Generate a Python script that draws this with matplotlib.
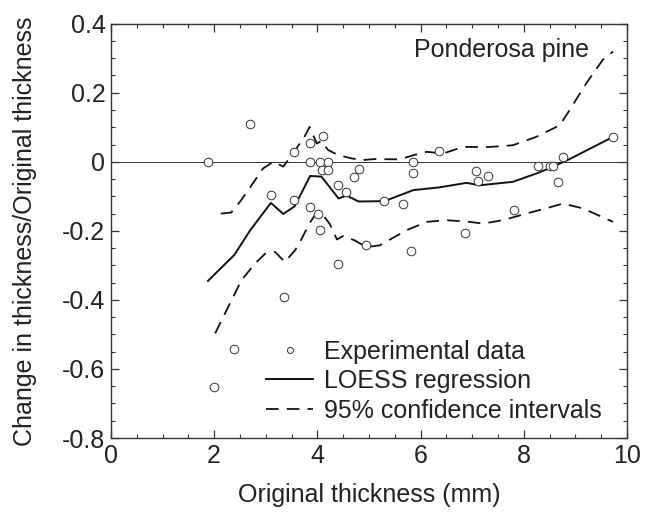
import numpy as np
import matplotlib.pyplot as plt

plt.rcParams['font.family'] = ['Liberation Sans', 'DejaVu Sans']

# experimental data points
exp_x = [1.89, 2.00, 2.39, 2.70, 3.10, 3.35, 3.55, 3.55, 3.85, 3.85, 3.85, 4.01, 4.05, 4.05,
         4.09, 4.11, 4.21, 4.21, 4.40, 4.40, 4.56, 4.71, 4.80, 4.95, 5.30, 5.66, 5.81, 5.86,
         5.86, 6.36, 6.86, 7.07, 7.12, 7.30, 7.81, 8.28, 8.50, 8.57, 8.67, 8.77, 9.73]
exp_y = [0.0, -0.652, -0.543, 0.11, -0.096, -0.391, 0.028, -0.112, 0.053, 0.0, -0.13, -0.15,
         -0.198, 0.0, -0.024, 0.074, 0.0, -0.024, -0.068, -0.297, -0.088, -0.043, -0.02, -0.242,
         -0.114, -0.123, -0.259, 0.0, -0.033, 0.032, -0.205, -0.027, -0.056, -0.04, -0.14,
         -0.012, -0.012, -0.012, -0.058, 0.014, 0.072]

# LOESS fit
loess_x = [1.88, 2.39, 2.70, 3.10, 3.34, 3.56, 3.86, 4.08, 4.41, 4.57, 4.80, 5.30, 5.86,
           6.37, 6.89, 7.15, 7.79, 8.28, 8.57, 8.89, 9.73]
loess_y = [-0.345, -0.27, -0.198, -0.119, -0.151, -0.129, -0.041, -0.043, -0.106, -0.098,
           -0.115, -0.114, -0.082, -0.074, -0.061, -0.068, -0.058, -0.032, -0.014, 0.008, 0.072]

# 95% confidence intervals
upper_x = [2.13, 2.33, 2.50, 2.66, 2.95, 3.15, 3.34, 3.55, 3.76, 3.85, 3.99, 4.08, 4.21,
           4.41, 4.66, 4.86, 5.12, 5.60, 5.86, 6.12, 6.44, 6.82, 7.34, 7.79, 8.24, 8.70,
           8.89, 9.21, 9.53, 9.73]
upper_y = [-0.15, -0.147, -0.116, -0.082, -0.019, 0.0, -0.014, 0.029, 0.075, 0.101, 0.053,
           0.06, 0.034, 0.019, 0.01, 0.005, 0.008, 0.007, 0.019, 0.029, 0.024, 0.043, 0.043,
           0.048, 0.072, 0.106, 0.15, 0.227, 0.295, 0.319]
lower_x = [2.02, 2.34, 2.53, 2.79, 2.99, 3.18, 3.37, 3.57, 3.70, 3.84, 3.95, 4.08, 4.24,
           4.38, 4.50, 4.73, 4.95, 5.21, 5.73, 6.12, 6.50, 6.95, 7.21, 7.60, 8.05, 8.50,
           8.76, 9.15, 9.73]
lower_y = [-0.497, -0.40, -0.343, -0.295, -0.266, -0.261, -0.29, -0.256, -0.222, -0.18,
           -0.155, -0.148, -0.18, -0.225, -0.215, -0.228, -0.247, -0.242, -0.198, -0.174,
           -0.169, -0.174, -0.179, -0.169, -0.15, -0.132, -0.121, -0.135, -0.174]

fig = plt.figure(figsize=(6.45, 5.23), dpi=100)
ax = fig.add_axes([0.172, 0.1625, 0.8, 0.7922])

txt = '#222222'
fs = 18
ax.axhline(0, color='#333333', lw=0.7, zorder=1)
ax.plot(exp_x, exp_y, 'o', mfc='white', mec='#333333', mew=0.7, ms=6.2,
        label='Experimental data', zorder=3)
ax.plot(loess_x, loess_y, '-', color='#111111', lw=1.4, label='LOESS regression', zorder=2)
ax.plot(upper_x, upper_y, color='#111111', lw=1.3, dashes=(7, 4.5),
        label='95% confidence intervals', zorder=2)
ax.plot(lower_x, lower_y, color='#111111', lw=1.3, dashes=(7, 4.5), zorder=2)

ax.set_xlim(0, 10)
ax.set_ylim(-0.8, 0.4)
ax.set_xticks(np.arange(0, 11, 2))
ax.set_xticks(np.arange(0, 10.01, 0.5), minor=True)
ax.set_yticks(np.arange(-0.8, 0.41, 0.2))
ax.set_yticks(np.arange(-0.8, 0.401, 0.05), minor=True)
ax.set_yticklabels(['-0.8', '-0.6', '-0.4', '-0.2', '0', '0.2', '0.4'])
ax.tick_params(which='both', direction='in', top=True, right=True, colors='#333333',
               labelcolor=txt, labelsize=fs)
ax.tick_params(which='major', length=6, width=0.9, pad=4)
ax.tick_params(which='minor', length=3, width=0.8)
for s in ax.spines.values():
    s.set_color('#333333')
    s.set_linewidth(1.0)

ax.set_xlabel('Original thickness (mm)', fontsize=fs, color=txt, labelpad=11)
ax.set_ylabel('Change in thickness/Original thickness', fontsize=fs, color=txt, labelpad=18)
ax.text(9.27, 0.325, 'Ponderosa pine', fontsize=fs, color=txt, ha='right', va='center')

ax.legend(loc='lower right', bbox_to_anchor=(0.985, -0.005), frameon=False, fontsize=fs,
          numpoints=1, markerscale=0.7, handlelength=1.85, handletextpad=0.45,
          labelspacing=0.22, labelcolor=txt, borderpad=0.2)

fig.savefig('out.png', dpi=100)
